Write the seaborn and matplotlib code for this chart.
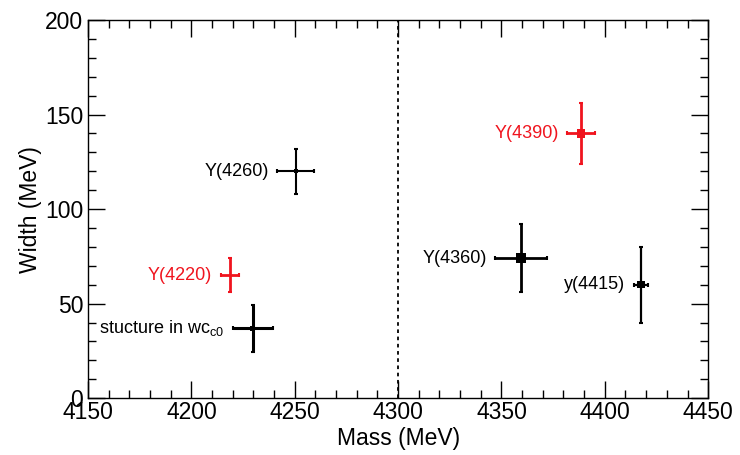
import numpy as np
import pandas as pd
import matplotlib
matplotlib.use("Agg")
import matplotlib.pyplot as plt
import seaborn as sns
from matplotlib.ticker import MultipleLocator

sns.set_style("ticks", {"axes.edgecolor": "black", "text.color": "black",
                        "axes.labelcolor": "black", "xtick.color": "black",
                        "ytick.color": "black"})
plt.rcParams['font.family'] = ['Liberation Sans', 'DejaVu Sans']
plt.rcParams['mathtext.fontset'] = 'custom'
plt.rcParams['mathtext.rm'] = 'Liberation Sans'
plt.rcParams['mathtext.it'] = 'Liberation Sans'

# states
names = ["Y(4220)", "stucture in wc$_{\\mathregular{c0}}$", "Y(4260)", "Y(4360)", "Y(4390)", "y(4415)"]
mass = [4218.5, 4229.7, 4250.5, 4359.5, 4388.5, 4417.5]
mass_err = [4.4, 9.7, 9.0, 12.7, 6.8, 3.6]
width = [65, 37, 120, 74, 140, 60]
width_err = [9, 12.4, 12, 18, 16, 20]
group = ["new", "old", "old", "old", "new", "old"]

# per-point drawing style (marker area, line width)
marker_size = [0, 14, 8, 50, 36, 30]
line_width = [2.0, 2.2, 1.5, 2.0, 2.0, 1.6]

df = pd.DataFrame({"Name": names, "Mass": mass, "MassErr": mass_err,
                   "Width": width, "WidthErr": width_err, "Group": group})
colors = {"old": "black", "new": "#f0141e"}

fig = plt.figure(figsize=(7.4, 4.55), dpi=100)
ax = fig.add_axes([0.119, 0.125, 0.838, 0.831])

for i, r in df.iterrows():
    ax.errorbar(r.Mass, r.Width, xerr=r.MassErr, yerr=r.WidthErr, fmt="none",
                ecolor=colors[r.Group], elinewidth=line_width[i], capsize=1.5, capthick=1.5)
df["Size"] = marker_size
sns.scatterplot(data=df, x="Mass", y="Width", hue="Group", palette=colors,
                size="Size", sizes=(min(marker_size), max(marker_size)),
                marker="s", edgecolor="none", legend=False, ax=ax, zorder=3)

for i, r in df.iterrows():
    ax.annotate(r.Name, (r.Mass - r.MassErr, r.Width), xytext=(-6, 0),
                textcoords="offset points", ha="right", va="center",
                fontsize=13, color=colors[r.Group])

ax.axvline(4300, color="black", linestyle=(0, (2, 2)), linewidth=1.3)

ax.set_xlim(4150, 4450)
ax.set_ylim(0, 200)
ax.xaxis.set_major_locator(MultipleLocator(50))
ax.xaxis.set_minor_locator(MultipleLocator(10))
ax.yaxis.set_major_locator(MultipleLocator(50))
ax.yaxis.set_minor_locator(MultipleLocator(10))
ax.tick_params(which="both", direction="in", top=True, right=True, labelsize=16.5,
               colors="black")
ax.tick_params(axis="x", pad=2)
ax.tick_params(which="major", length=12, width=1)
ax.tick_params(which="minor", length=6, width=1)
for s in ax.spines.values():
    s.set_linewidth(1)
    s.set_color("black")
ax.set_xlabel("Mass (MeV)", fontsize=16.5, labelpad=2, color="black")
ax.set_ylabel("Width (MeV)", fontsize=16.5, labelpad=2, color="black")

fig.savefig("out.png", dpi=100)
